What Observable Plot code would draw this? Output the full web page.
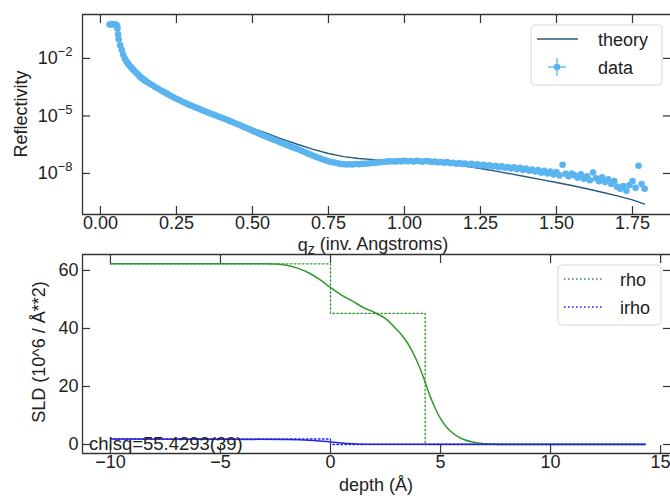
<!DOCTYPE html>
<html><head><meta charset="utf-8">
<script src="https://cdn.jsdelivr.net/npm/d3@7"></script>
<script src="https://cdn.jsdelivr.net/npm/@observablehq/plot@0.6"></script>
<style>
body{margin:0;background:#fff;}
#chart{position:relative;width:670px;height:496px;overflow:hidden;background:#fff;}
#chart svg{position:absolute;left:0;}
</style></head><body><div id="chart"></div>
<script>
// ---------- Reflectivity data (q in inv. Angstroms, log10 of reflectivity) ----------
const qData = [0.030,0.035,0.040,0.045,0.050,0.055,0.056,0.058,0.060,0.065,0.070,0.075,0.080,0.085,0.090,0.095,0.100,0.105,0.110,0.115,0.120,0.125,0.130,0.135,0.140,0.145,0.150,
0.16,0.17,0.18,0.19,0.20,0.21,0.22,0.23,0.24,0.25,0.26,0.27,0.28,0.29,0.30,0.31,0.32,0.33,0.34,0.35,0.36,0.37,0.38,0.39,0.40,
0.41,0.42,0.43,0.44,0.45,0.46,0.47,0.48,0.49,0.50,0.51,0.52,0.53,0.54,0.55,0.56,0.57,0.58,0.59,0.60,
0.61,0.62,0.63,0.64,0.65,0.66,0.67,0.68,0.69,0.70,0.71,0.72,0.73,0.74,0.75,0.76,0.77,0.78,0.79,0.80,
0.81,0.82,0.83,0.84,0.85,0.86,0.87,0.88,0.89,0.90,0.91,0.92,0.93,0.94,0.95,0.96,0.97,0.98,0.99,1.00,
1.01,1.02,1.03,1.04,1.05,1.06,1.07,1.08,1.09,1.10,1.11,1.12,1.13,1.14,1.15,1.16,1.17,1.18,1.19,1.20,
1.21,1.22,1.23,1.24,1.25,1.26,1.27,1.28,1.29,1.30,1.31,1.32,1.33,1.34,1.35,1.36,1.37,1.38,1.39,1.40,
1.41,1.42,1.43,1.44,1.45,1.46,1.47,1.48,1.49,1.50,1.51,1.52,1.53,1.54,1.55,1.56,1.57,1.58,1.59,1.60,
1.61,1.62,1.63,1.64,1.65,1.66,1.67,1.68,1.69,1.70,1.71,1.72,1.73,1.74,1.75,1.76,1.77,1.78,1.79];
const log10RData = [-0.23,-0.22,-0.23,-0.22,-0.23,-0.30,-0.45,-0.75,-1.00,-1.32,-1.55,-1.80,-2.00,-2.14,-2.26,-2.36,-2.45,-2.54,-2.62,-2.71,-2.79,-2.87,-2.95,-3.02,-3.08,-3.14,-3.20,
-3.30,-3.39,-3.49,-3.58,-3.67,-3.76,-3.85,-3.94,-4.03,-4.10,-4.18,-4.26,-4.33,-4.40,-4.47,-4.54,-4.60,-4.67,-4.73,-4.80,-4.86,-4.92,-4.98,-5.04,-5.10,
-5.16,-5.23,-5.29,-5.36,-5.42,-5.49,-5.56,-5.63,-5.70,-5.77,-5.84,-5.91,-5.98,-6.05,-6.11,-6.18,-6.24,-6.30,-6.37,-6.43,
-6.49,-6.56,-6.62,-6.68,-6.74,-6.80,-6.87,-6.94,-7.01,-7.08,-7.14,-7.20,-7.26,-7.31,-7.36,-7.40,-7.43,-7.47,-7.50,-7.52,
-7.53,-7.52,-7.53,-7.51,-7.52,-7.50,-7.49,-7.48,-7.46,-7.45,-7.43,-7.41,-7.40,-7.38,-7.37,-7.36,-7.38,-7.35,-7.37,-7.34,
-7.36,-7.35,-7.38,-7.34,-7.36,-7.39,-7.35,-7.37,-7.40,-7.38,-7.42,-7.40,-7.44,-7.41,-7.46,-7.44,-7.49,-7.46,-7.50,-7.48,
-7.53,-7.50,-7.56,-7.52,-7.58,-7.55,-7.61,-7.57,-7.64,-7.60,-7.67,-7.62,-7.70,-7.66,-7.74,-7.68,-7.78,-7.70,-7.82,-7.75,
-7.86,-7.79,-7.90,-7.82,-7.96,-7.86,-8.00,-7.90,-8.05,-7.92,-8.10,-7.55,-8.02,-8.15,-8.00,-8.10,-8.22,-8.05,-8.28,-8.15,
-8.35,-7.95,-8.25,-8.40,-8.20,-8.45,-8.30,-8.55,-8.40,-8.70,-8.80,-8.65,-8.90,-8.60,-8.40,-8.75,-7.60,-8.55,-8.80];

// ---------- Theory curve ----------
const qTheory = [0.030,0.050,0.055,0.058,0.060,0.065,0.070,0.080,0.090,0.100,0.120,0.140,0.160,0.190,0.220,0.250,0.300,0.350,0.400,0.450,
0.500,0.550,0.600,0.650,0.700,0.750,0.800,0.850,0.900,0.950,1.000,1.050,1.100,1.150,1.200,1.250,1.300,1.350,1.400,1.450,1.500,1.550,1.600,1.650,1.700,1.750,1.790];
const log10RTheory = [-0.23,-0.23,-0.26,-0.60,-1.00,-1.30,-1.52,-1.97,-2.23,-2.43,-2.77,-3.06,-3.28,-3.56,-3.84,-4.08,-4.42,-4.74,-5.05,-5.35,
-5.64,-5.93,-6.22,-6.49,-6.74,-6.96,-7.12,-7.22,-7.28,-7.32,-7.35,-7.38,-7.43,-7.51,-7.61,-7.74,-7.88,-8.02,-8.17,-8.32,-8.47,-8.63,-8.80,-8.98,-9.17,-9.38,-9.60];

// ---------- SLD profile ----------
const depthRho = [-10,-4,-3,-2.5,-2,-1.5,-1,-0.5,0,0.5,1,1.5,2,2.5,3,3.25,3.5,3.75,4,4.25,4.5,4.75,5,5.25,5.5,5.75,6,6.5,7,7.5,8,10,12,14.3];
const rhoSmooth = [62.3,62.3,62.3,62.2,61.8,60.8,59.2,56.9,54.1,51.5,49.4,47.2,45.5,43.4,39.7,37.6,35.0,31.6,27.5,22.6,17.2,12.6,8.9,6.2,4.3,2.9,1.9,0.8,0.3,0.1,0,0,0,0];
const depthIrho = [-10,-5,-2,-1,-0.5,0,0.5,1,2,4,14.3];
const irhoSmooth = [1.9,1.85,1.7,1.5,1.25,0.9,0.55,0.3,0.12,0.05,0.05];
const depthRhoStep = [-10,0,0,4.3,4.3,14.3];
const rhoStep = [62.3,62.3,45.2,45.2,0,0];
const depthIrhoStep = [-10,0,0,14.3];
const irhoStep = [1.9,1.9,0,0];

const qTicks = [0,0.25,0.5,0.75,1.0,1.25,1.5,1.75];
const rTicks = [1e-2,1e-5,1e-8];
const depthTicks = [-10,-5,0,5,10,15];
const sldTicks = [0,20,40,60];
const chisqText = "chisq=55.4293(39)";

// ---------- tables ----------
const dataTable = qData.map((q,i)=>({q, R: Math.pow(10, log10RData[i])}));
const theoryTable = qTheory.map((q,i)=>({q, R: Math.pow(10, log10RTheory[i])}));
const rhoTable = depthRho.map((d,i)=>({d, v: rhoSmooth[i]}));
const irhoTable = depthIrho.map((d,i)=>({d, v: irhoSmooth[i]}));
const rhoStepTable = depthRhoStep.map((d,i)=>({d, v: rhoStep[i]}));
const irhoStepTable = depthIrhoStep.map((d,i)=>({d, v: irhoStep[i]}));

const FONT = '"Liberation Sans", Arial, sans-serif';
const INK = "#222";
const FRAME = "#333";
const dataColor = "#5ab4ef";
const theoryColor = "#27587e";
const green = "#2e9a2e";
const blue = "#2424e0";

const baseStyle = {background: "transparent", fontFamily: FONT, fontSize: "18px", color: INK, overflow: "visible"};

function axes(xTicks, yTicks, xFmt, yFmt, yPad) {
  return [
    Plot.axisX({ticks: xTicks, tickSize: 0, tickPadding: 2, tickFormat: xFmt, label: null, fontSize: 18, fill: INK}),
    Plot.axisX({ticks: xTicks, tickSize: -8, text: null, label: null, strokeWidth: 1.2, stroke: FRAME}),
    Plot.axisX({anchor: "top", ticks: xTicks, tickSize: -8, text: null, label: null, strokeWidth: 1.2, stroke: FRAME}),
    Plot.axisY({ticks: yTicks, tickSize: 0, tickPadding: yPad, tickFormat: yFmt, label: null, fontSize: 18, fill: INK}),
    Plot.axisY({ticks: yTicks, tickSize: -8, text: null, label: null, strokeWidth: 1.2, stroke: FRAME}),
    Plot.axisY({anchor: "right", ticks: yTicks, tickSize: -8, text: null, label: null, strokeWidth: 1.2, stroke: FRAME})
  ];
}

const qDomain = [-0.059, 1.875];
const rDomain = [Math.pow(10,-10.14), Math.pow(10,0.29)];
const dDomain = [-11.27, 15.45];
const sDomain = [-3.1, 65.5];

const topPlot = Plot.plot({
  width: 670, height: 254,
  marginLeft: 82, marginRight: 0, marginTop: 14, marginBottom: 40,
  style: baseStyle,
  x: {domain: qDomain, label: null},
  y: {type: "log", domain: rDomain, label: null},
  marks: [
    Plot.line(theoryTable, {x: "q", y: "R", stroke: theoryColor, strokeWidth: 1.4}),
    Plot.dot(dataTable, {x: "q", y: "R", r: 3.3, fill: dataColor}),
    ...axes(qTicks, rTicks, d3.format(".2f"), d => "10^" + Math.round(Math.log10(d)), 10),
    Plot.ruleX([qDomain[0]], {stroke: FRAME, strokeWidth: 1.3}),
    Plot.ruleY(rDomain, {stroke: FRAME, strokeWidth: 1.3})
  ]
});

const botPlot = Plot.plot({
  width: 670, height: 256,
  marginLeft: 82, marginRight: 0, marginTop: 14, marginBottom: 43,
  style: baseStyle,
  x: {domain: dDomain, label: null},
  y: {domain: sDomain, label: null},
  marks: [
    Plot.line(rhoStepTable, {x: "d", y: "v", stroke: green, strokeWidth: 1.3, strokeDasharray: "1.6,2.4"}),
    Plot.line(rhoTable, {x: "d", y: "v", stroke: green, strokeWidth: 1.5, curve: "monotone-x"}),
    Plot.line(irhoStepTable, {x: "d", y: "v", stroke: blue, strokeWidth: 1.3, strokeDasharray: "1.6,2.4"}),
    Plot.line(irhoTable, {x: "d", y: "v", stroke: blue, strokeWidth: 1.5, curve: "monotone-x"}),
    ...axes(depthTicks, sldTicks, d3.format("d"), d3.format("d"), 4),
    Plot.ruleX([dDomain[0]], {stroke: FRAME, strokeWidth: 1.3}),
    Plot.ruleY(sDomain, {stroke: FRAME, strokeWidth: 1.3})
  ]
});

const chart = document.getElementById("chart");
topPlot.style.top = "0px";
botPlot.style.top = "240px";
chart.appendChild(botPlot);
chart.appendChild(topPlot);

// superscript exponents on log ticks
d3.select(topPlot).selectAll('g[aria-label="y-axis tick label"] text').each(function() {
  const t = d3.select(this);
  const s = t.text();
  if (s.startsWith("10^")) {
    const e = s.slice(3).replace("-", "\u2212");
    t.text("10");
    t.append("tspan").attr("dy", "-0.6em").attr("font-size", "13px").text(e);
  }
});

function addText(svg, x, y, str, opts = {}) {
  const t = d3.select(svg).append("text")
    .attr("x", x).attr("y", y)
    .attr("fill", INK).attr("font-family", FONT).attr("font-size", opts.size || 18)
    .attr("text-anchor", opts.anchor || "start");
  if (opts.rotate) t.attr("transform", `rotate(-90 ${x} ${y})`);
  t.text(str);
  return t;
}

// axis labels
addText(topPlot, 27, 114, "Reflectivity", {anchor: "middle", rotate: true});
const ql = addText(topPlot, 373, 251, "q", {anchor: "middle"});
ql.append("tspan").attr("font-size", 14).attr("dy", "0.2em").text("z");
ql.append("tspan").attr("dy", "-0.2em").text(" (inv. Angstroms)");
addText(botPlot, 376, 251, "depth (Å)", {anchor: "middle"});
addText(botPlot, 45, 112, "SLD (10^6 / Å**2)", {anchor: "middle", rotate: true});
addText(botPlot, 89, 210, chisqText, {size: 18.5});

// legends
function legend(svg, x, w, rows) {
  const g = d3.select(svg).append("g").attr("text-anchor", "start");
  g.append("rect").attr("x", x).attr("y", 25).attr("width", w).attr("height", 60).attr("rx", 4)
    .attr("fill", "white").attr("fill-opacity", 0.85).attr("stroke", "#d8d8d8").attr("stroke-width", 1);
  rows.forEach((r, i) => {
    const y = 39 + i * 28;
    r.draw(g, x, y);
    g.append("text").attr("x", x + r.tx).attr("y", y + 7).attr("fill", INK)
      .attr("text-anchor", "start")
      .attr("font-family", FONT).attr("font-size", 18).text(r.label);
  });
}
legend(topPlot, 531, 131, [
  {label: "theory", tx: 67, draw: (g, x, y) => g.append("line").attr("x1", x + 6).attr("x2", x + 47).attr("y1", y).attr("y2", y).attr("stroke", theoryColor).attr("stroke-width", 1.5)},
  {label: "data", tx: 67, draw: (g, x, y) => {
    const cx = x + 26;
    g.append("line").attr("x1", cx - 9).attr("x2", cx + 9).attr("y1", y).attr("y2", y).attr("stroke", dataColor).attr("stroke-width", 1.3);
    g.append("line").attr("x1", cx).attr("x2", cx).attr("y1", y - 9).attr("y2", y + 9).attr("stroke", dataColor).attr("stroke-width", 1.3);
    g.append("circle").attr("cx", cx).attr("cy", y).attr("r", 3.3).attr("fill", dataColor);
  }}
]);
legend(botPlot, 558, 103, [
  {label: "rho", tx: 62, draw: (g, x, y) => g.append("line").attr("x1", x + 6).attr("x2", x + 46).attr("y1", y).attr("y2", y).attr("stroke", green).attr("stroke-width", 1.3).attr("stroke-dasharray", "1.6,2.4")},
  {label: "irho", tx: 62, draw: (g, x, y) => g.append("line").attr("x1", x + 6).attr("x2", x + 46).attr("y1", y).attr("y2", y).attr("stroke", blue).attr("stroke-width", 1.3).attr("stroke-dasharray", "1.6,2.4")}
]);
</script></body></html>
